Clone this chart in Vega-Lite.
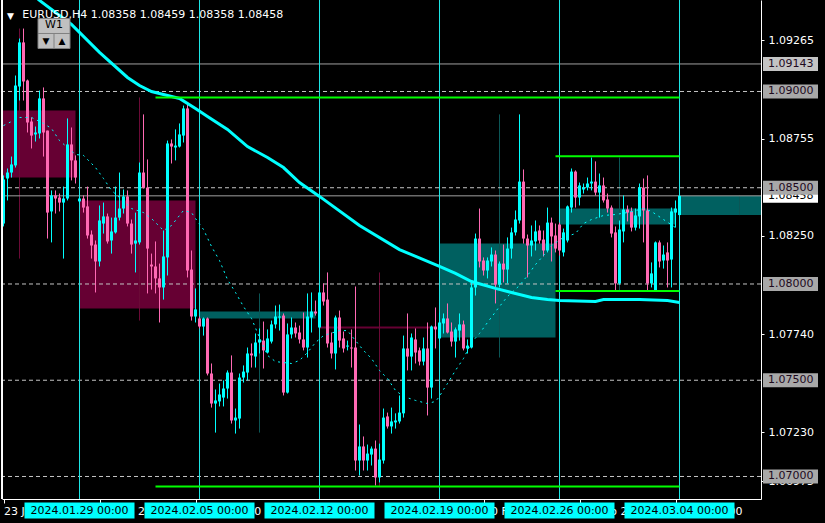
{
  "$schema": "https://vega.github.io/schema/vega-lite/v6.json",
  "width": 759,
  "height": 499,
  "autosize": {"type": "none"},
  "padding": {"left": 2, "top": 0, "right": 64, "bottom": 24},
  "background": "#000000",
  "config": {"view": {"stroke": null}, "font": "DejaVu Sans", "text": {"font": "DejaVu Sans"}},
  "datasets": {
    "candles": [
      {"i":0,"o":1.08314,"h":1.08564,"l":1.08299,"c":1.08543},
      {"i":1,"o":1.08548,"h":1.08600,"l":1.08434,"c":1.08579},
      {"i":2,"o":1.08579,"h":1.08662,"l":1.08553,"c":1.08621},
      {"i":3,"o":1.08616,"h":1.09083,"l":1.08605,"c":1.09031},
      {"i":4,"o":1.09026,"h":1.09275,"l":1.08953,"c":1.09255},
      {"i":5,"o":1.09255,"h":1.09327,"l":1.08953,"c":1.09052},
      {"i":6,"o":1.09057,"h":1.09062,"l":1.08787,"c":1.08839},
      {"i":7,"o":1.08844,"h":1.08865,"l":1.08704,"c":1.08771},
      {"i":8,"o":1.08777,"h":1.08818,"l":1.08740,"c":1.08787},
      {"i":9,"o":1.08782,"h":1.09005,"l":1.08756,"c":1.08964},
      {"i":10,"o":1.08964,"h":1.09021,"l":1.08662,"c":1.08787},
      {"i":11,"o":1.08797,"h":1.08797,"l":1.08236,"c":1.08371},
      {"i":12,"o":1.08377,"h":1.08486,"l":1.08216,"c":1.08460},
      {"i":13,"o":1.08460,"h":1.08486,"l":1.08366,"c":1.08444},
      {"i":14,"o":1.08449,"h":1.08470,"l":1.08377,"c":1.08423},
      {"i":15,"o":1.08423,"h":1.08506,"l":1.08132,"c":1.08444},
      {"i":16,"o":1.08444,"h":1.08860,"l":1.08434,"c":1.08725},
      {"i":17,"o":1.08725,"h":1.08813,"l":1.08538,"c":1.08642},
      {"i":18,"o":1.08642,"h":1.08668,"l":1.08522,"c":1.08553},
      {"i":19,"o":1.08429,"h":1.08455,"l":1.08418,"c":1.08444},
      {"i":20,"o":1.08444,"h":1.08460,"l":1.08371,"c":1.08397},
      {"i":21,"o":1.08403,"h":1.08506,"l":1.08236,"c":1.08252},
      {"i":22,"o":1.08257,"h":1.08278,"l":1.08132,"c":1.08200},
      {"i":23,"o":1.08205,"h":1.08226,"l":1.07956,"c":1.08117},
      {"i":24,"o":1.08117,"h":1.08408,"l":1.08091,"c":1.08330},
      {"i":25,"o":1.08314,"h":1.08423,"l":1.08262,"c":1.08351},
      {"i":26,"o":1.08351,"h":1.08366,"l":1.08210,"c":1.08221},
      {"i":27,"o":1.08226,"h":1.08345,"l":1.08158,"c":1.08273},
      {"i":28,"o":1.08268,"h":1.08506,"l":1.08262,"c":1.08345},
      {"i":29,"o":1.08345,"h":1.08579,"l":1.08330,"c":1.08392},
      {"i":30,"o":1.08392,"h":1.08491,"l":1.08366,"c":1.08455},
      {"i":31,"o":1.08455,"h":1.08486,"l":1.08299,"c":1.08314},
      {"i":32,"o":1.08314,"h":1.08335,"l":1.08158,"c":1.08205},
      {"i":33,"o":1.08210,"h":1.08371,"l":1.08060,"c":1.08226},
      {"i":34,"o":1.08216,"h":1.08631,"l":1.08205,"c":1.08579},
      {"i":35,"o":1.08579,"h":1.08881,"l":1.08496,"c":1.08501},
      {"i":36,"o":1.08501,"h":1.08647,"l":1.07951,"c":1.08184},
      {"i":37,"o":1.08101,"h":1.08158,"l":1.07971,"c":1.08091},
      {"i":38,"o":1.08091,"h":1.08221,"l":1.07951,"c":1.08029},
      {"i":39,"o":1.08029,"h":1.08106,"l":1.07800,"c":1.07982},
      {"i":40,"o":1.07982,"h":1.08278,"l":1.07919,"c":1.08143},
      {"i":41,"o":1.08138,"h":1.08745,"l":1.08044,"c":1.08730},
      {"i":42,"o":1.08730,"h":1.08751,"l":1.08626,"c":1.08714},
      {"i":43,"o":1.08709,"h":1.08803,"l":1.08642,"c":1.08719},
      {"i":44,"o":1.08714,"h":1.08834,"l":1.08709,"c":1.08777},
      {"i":45,"o":1.08771,"h":1.08927,"l":1.08735,"c":1.08912},
      {"i":46,"o":1.08912,"h":1.08938,"l":1.08034,"c":1.08070},
      {"i":47,"o":1.08075,"h":1.08174,"l":1.07810,"c":1.07831},
      {"i":48,"o":1.07831,"h":1.07977,"l":1.07800,"c":1.07868},
      {"i":49,"o":1.07821,"h":1.07831,"l":1.07769,"c":1.07779},
      {"i":50,"o":1.07779,"h":1.07826,"l":1.07732,"c":1.07821},
      {"i":51,"o":1.07821,"h":1.07826,"l":1.07525,"c":1.07535},
      {"i":52,"o":1.07535,"h":1.07587,"l":1.07358,"c":1.07379},
      {"i":53,"o":1.07379,"h":1.07452,"l":1.07228,"c":1.07395},
      {"i":54,"o":1.07390,"h":1.07483,"l":1.07364,"c":1.07426},
      {"i":55,"o":1.07410,"h":1.07499,"l":1.07364,"c":1.07457},
      {"i":56,"o":1.07457,"h":1.07551,"l":1.07405,"c":1.07540},
      {"i":57,"o":1.07540,"h":1.07629,"l":1.07275,"c":1.07291},
      {"i":58,"o":1.07291,"h":1.07353,"l":1.07223,"c":1.07306},
      {"i":59,"o":1.07301,"h":1.07535,"l":1.07249,"c":1.07514},
      {"i":60,"o":1.07514,"h":1.07577,"l":1.07488,"c":1.07545},
      {"i":61,"o":1.07540,"h":1.07670,"l":1.07499,"c":1.07639},
      {"i":62,"o":1.07639,"h":1.07691,"l":1.07566,"c":1.07629},
      {"i":63,"o":1.07623,"h":1.07743,"l":1.07566,"c":1.07696},
      {"i":64,"o":1.07696,"h":1.07769,"l":1.07639,"c":1.07712},
      {"i":65,"o":1.07706,"h":1.07805,"l":1.07561,"c":1.07655},
      {"i":66,"o":1.07644,"h":1.07764,"l":1.07639,"c":1.07717},
      {"i":67,"o":1.07701,"h":1.07810,"l":1.07691,"c":1.07790},
      {"i":68,"o":1.07790,"h":1.07888,"l":1.07769,"c":1.07831},
      {"i":69,"o":1.07826,"h":1.07893,"l":1.07758,"c":1.07831},
      {"i":70,"o":1.07836,"h":1.07847,"l":1.07421,"c":1.07436},
      {"i":71,"o":1.07436,"h":1.07795,"l":1.07431,"c":1.07738},
      {"i":72,"o":1.07738,"h":1.07826,"l":1.07717,"c":1.07774},
      {"i":73,"o":1.07774,"h":1.07800,"l":1.07722,"c":1.07743},
      {"i":74,"o":1.07748,"h":1.07784,"l":1.07691,"c":1.07712},
      {"i":75,"o":1.07712,"h":1.07852,"l":1.07655,"c":1.07670},
      {"i":76,"o":1.07670,"h":1.07951,"l":1.07618,"c":1.07831},
      {"i":77,"o":1.07826,"h":1.07956,"l":1.07748,"c":1.07857},
      {"i":78,"o":1.07857,"h":1.07914,"l":1.07836,"c":1.07847},
      {"i":79,"o":1.07774,"h":1.07992,"l":1.07769,"c":1.07956},
      {"i":80,"o":1.07956,"h":1.08003,"l":1.07888,"c":1.07909},
      {"i":81,"o":1.07919,"h":1.08060,"l":1.07670,"c":1.07691},
      {"i":82,"o":1.07696,"h":1.07748,"l":1.07613,"c":1.07639},
      {"i":83,"o":1.07639,"h":1.07836,"l":1.07556,"c":1.07826},
      {"i":84,"o":1.07826,"h":1.07862,"l":1.07670,"c":1.07706},
      {"i":85,"o":1.07717,"h":1.07753,"l":1.07644,"c":1.07665},
      {"i":86,"o":1.07675,"h":1.07706,"l":1.07655,"c":1.07680},
      {"i":87,"o":1.07670,"h":1.07764,"l":1.07566,"c":1.07665},
      {"i":88,"o":1.07670,"h":1.07987,"l":1.07031,"c":1.07083},
      {"i":89,"o":1.07083,"h":1.07270,"l":1.07005,"c":1.07156},
      {"i":90,"o":1.07156,"h":1.07208,"l":1.07031,"c":1.07083},
      {"i":91,"o":1.07083,"h":1.07166,"l":1.07031,"c":1.07119},
      {"i":92,"o":1.07114,"h":1.07156,"l":1.07057,"c":1.07145},
      {"i":93,"o":1.07145,"h":1.07187,"l":1.06953,"c":1.06995},
      {"i":94,"o":1.06995,"h":1.07171,"l":1.06969,"c":1.07088},
      {"i":95,"o":1.07083,"h":1.07353,"l":1.07067,"c":1.07306},
      {"i":96,"o":1.07312,"h":1.07332,"l":1.07249,"c":1.07260},
      {"i":97,"o":1.07260,"h":1.07358,"l":1.07223,"c":1.07286},
      {"i":98,"o":1.07281,"h":1.07328,"l":1.07249,"c":1.07291},
      {"i":99,"o":1.07286,"h":1.07421,"l":1.07275,"c":1.07332},
      {"i":100,"o":1.07328,"h":1.07732,"l":1.07306,"c":1.07665},
      {"i":101,"o":1.07665,"h":1.07847,"l":1.07551,"c":1.07623},
      {"i":102,"o":1.07623,"h":1.07743,"l":1.07551,"c":1.07722},
      {"i":103,"o":1.07712,"h":1.07769,"l":1.07587,"c":1.07644},
      {"i":104,"o":1.07655,"h":1.07670,"l":1.07577,"c":1.07597},
      {"i":105,"o":1.07597,"h":1.07722,"l":1.07577,"c":1.07665},
      {"i":106,"o":1.07665,"h":1.07800,"l":1.07317,"c":1.07462},
      {"i":107,"o":1.07462,"h":1.07784,"l":1.07405,"c":1.07779},
      {"i":108,"o":1.07779,"h":1.07878,"l":1.07665,"c":1.07764},
      {"i":109,"o":1.07717,"h":1.07852,"l":1.07706,"c":1.07800},
      {"i":110,"o":1.07795,"h":1.07847,"l":1.07743,"c":1.07821},
      {"i":111,"o":1.07821,"h":1.07899,"l":1.07743,"c":1.07748},
      {"i":112,"o":1.07753,"h":1.07800,"l":1.07675,"c":1.07701},
      {"i":113,"o":1.07701,"h":1.07774,"l":1.07618,"c":1.07764},
      {"i":114,"o":1.07758,"h":1.07847,"l":1.07706,"c":1.07790},
      {"i":115,"o":1.07790,"h":1.07810,"l":1.07655,"c":1.07665},
      {"i":116,"o":1.07665,"h":1.07712,"l":1.07639,"c":1.07680},
      {"i":117,"o":1.07670,"h":1.08008,"l":1.07665,"c":1.07982},
      {"i":118,"o":1.07982,"h":1.08262,"l":1.07940,"c":1.08236},
      {"i":119,"o":1.08236,"h":1.08392,"l":1.08086,"c":1.08117},
      {"i":120,"o":1.08122,"h":1.08138,"l":1.08044,"c":1.08070},
      {"i":121,"o":1.08070,"h":1.08138,"l":1.08029,"c":1.08122},
      {"i":122,"o":1.08117,"h":1.08190,"l":1.08091,"c":1.08153},
      {"i":123,"o":1.08153,"h":1.08174,"l":1.07899,"c":1.07997},
      {"i":124,"o":1.07997,"h":1.08117,"l":1.07982,"c":1.08106},
      {"i":125,"o":1.08106,"h":1.08205,"l":1.08008,"c":1.08075},
      {"i":126,"o":1.08075,"h":1.08242,"l":1.08003,"c":1.08184},
      {"i":127,"o":1.08184,"h":1.08293,"l":1.08132,"c":1.08268},
      {"i":128,"o":1.08268,"h":1.08382,"l":1.08252,"c":1.08335},
      {"i":129,"o":1.08330,"h":1.08881,"l":1.08314,"c":1.08532},
      {"i":130,"o":1.08532,"h":1.08595,"l":1.08210,"c":1.08236},
      {"i":131,"o":1.08236,"h":1.08257,"l":1.08034,"c":1.08200},
      {"i":132,"o":1.08200,"h":1.08304,"l":1.08143,"c":1.08226},
      {"i":133,"o":1.08221,"h":1.08330,"l":1.08174,"c":1.08273},
      {"i":134,"o":1.08278,"h":1.08304,"l":1.08210,"c":1.08226},
      {"i":135,"o":1.08231,"h":1.08278,"l":1.08143,"c":1.08174},
      {"i":136,"o":1.08174,"h":1.08397,"l":1.08164,"c":1.08319},
      {"i":137,"o":1.08319,"h":1.08345,"l":1.08117,"c":1.08247},
      {"i":138,"o":1.08252,"h":1.08314,"l":1.08164,"c":1.08184},
      {"i":139,"o":1.08309,"h":1.08319,"l":1.08148,"c":1.08174},
      {"i":140,"o":1.08164,"h":1.08288,"l":1.08143,"c":1.08268},
      {"i":141,"o":1.08226,"h":1.08408,"l":1.08216,"c":1.08403},
      {"i":142,"o":1.08397,"h":1.08600,"l":1.08371,"c":1.08584},
      {"i":143,"o":1.08584,"h":1.08590,"l":1.08397,"c":1.08449},
      {"i":144,"o":1.08449,"h":1.08527,"l":1.08408,"c":1.08512},
      {"i":145,"o":1.08491,"h":1.08522,"l":1.08470,"c":1.08501},
      {"i":146,"o":1.08501,"h":1.08553,"l":1.08486,"c":1.08522},
      {"i":147,"o":1.08522,"h":1.08657,"l":1.08486,"c":1.08532},
      {"i":148,"o":1.08532,"h":1.08637,"l":1.08460,"c":1.08475},
      {"i":149,"o":1.08475,"h":1.08574,"l":1.08345,"c":1.08512},
      {"i":150,"o":1.08512,"h":1.08553,"l":1.08423,"c":1.08434},
      {"i":151,"o":1.08439,"h":1.08470,"l":1.08371,"c":1.08392},
      {"i":152,"o":1.08397,"h":1.08408,"l":1.08242,"c":1.08262},
      {"i":153,"o":1.08268,"h":1.08299,"l":1.07966,"c":1.08003},
      {"i":154,"o":1.08003,"h":1.08330,"l":1.07997,"c":1.08283},
      {"i":155,"o":1.08273,"h":1.08460,"l":1.08216,"c":1.08387},
      {"i":156,"o":1.08387,"h":1.08408,"l":1.08325,"c":1.08371},
      {"i":157,"o":1.08377,"h":1.08397,"l":1.08273,"c":1.08293},
      {"i":158,"o":1.08293,"h":1.08392,"l":1.08278,"c":1.08356},
      {"i":159,"o":1.08351,"h":1.08522,"l":1.08288,"c":1.08501},
      {"i":160,"o":1.08501,"h":1.08548,"l":1.08216,"c":1.08382},
      {"i":161,"o":1.08382,"h":1.08564,"l":1.07966,"c":1.08003},
      {"i":162,"o":1.08003,"h":1.08112,"l":1.07982,"c":1.08055},
      {"i":163,"o":1.07966,"h":1.08221,"l":1.07963,"c":1.08216},
      {"i":164,"o":1.08216,"h":1.08226,"l":1.08086,"c":1.08117},
      {"i":165,"o":1.08122,"h":1.08200,"l":1.08080,"c":1.08153},
      {"i":166,"o":1.08164,"h":1.08216,"l":1.07982,"c":1.08122},
      {"i":167,"o":1.08127,"h":1.08397,"l":1.07982,"c":1.08377},
      {"i":168,"o":1.08371,"h":1.08434,"l":1.08293,"c":1.08392},
      {"i":169,"o":1.08358,"h":1.08459,"l":1.08358,"c":1.08458}
    ],
    "weeks": [
      {"ws":-11,"we":18,"wi":4,"o":1.08901,"h":1.09327,"l":1.08132,"c":1.08553},
      {"ws":19,"we":48,"wi":34,"o":1.08434,"h":1.08969,"l":1.07810,"c":1.07873},
      {"ws":49,"we":78,"wi":64,"o":1.07821,"h":1.07951,"l":1.07228,"c":1.07857},
      {"ws":79,"we":108,"wi":94,"o":1.07779,"h":1.08060,"l":1.06948,"c":1.07769},
      {"ws":109,"we":138,"wi":124,"o":1.07722,"h":1.08881,"l":1.07618,"c":1.08210},
      {"ws":139,"we":168,"wi":154,"o":1.08309,"h":1.08657,"l":1.07966,"c":1.08392},
      {"ws":169,"we":198,"wi":184,"o":1.08358,"h":1.08459,"l":1.08358,"c":1.08458}
    ],
    "ma": [
      {"i":0,"v":1.09644},{"i":9,"v":1.09473},{"i":17,"v":1.09348},{"i":24,"v":1.09203},
      {"i":31,"v":1.09073},{"i":34,"v":1.09031},{"i":37,"v":1.09000},{"i":44,"v":1.08964},
      {"i":48,"v":1.08912},{"i":51,"v":1.08870},{"i":56,"v":1.08803},{"i":61,"v":1.08714},
      {"i":66,"v":1.08657},{"i":70,"v":1.08605},{"i":74,"v":1.08527},{"i":79,"v":1.08455},
      {"i":89,"v":1.08304},{"i":99,"v":1.08179},{"i":109,"v":1.08091},{"i":113,"v":1.08055},
      {"i":117,"v":1.08013},{"i":123,"v":1.07977},{"i":127,"v":1.07956},{"i":132,"v":1.07930},
      {"i":136,"v":1.07919},{"i":139,"v":1.07914},{"i":148,"v":1.07909},{"i":150,"v":1.07919},
      {"i":159,"v":1.07919},{"i":166,"v":1.07914},{"i":169,"v":1.07904}
    ],
    "ma2": [
      {"i":0,"v":1.08823},{"i":4,"v":1.08865},{"i":7,"v":1.08865},{"i":10,"v":1.08834},
      {"i":12,"v":1.08808},{"i":14,"v":1.08745},{"i":18,"v":1.08673},{"i":20,"v":1.08668},
      {"i":23,"v":1.08605},{"i":25,"v":1.08548},{"i":27,"v":1.08486},{"i":29,"v":1.08449},
      {"i":32,"v":1.08392},{"i":35,"v":1.08371},{"i":37,"v":1.08340},{"i":40,"v":1.08278},
      {"i":42,"v":1.08304},{"i":45,"v":1.08382},{"i":47,"v":1.08371},{"i":48,"v":1.08340},
      {"i":50,"v":1.08283},{"i":52,"v":1.08195},{"i":54,"v":1.08122},{"i":56,"v":1.08023},
      {"i":58,"v":1.07956},{"i":60,"v":1.07883},{"i":62,"v":1.07821},{"i":64,"v":1.07722},
      {"i":66,"v":1.07629},{"i":68,"v":1.07597},{"i":70,"v":1.07592},{"i":72,"v":1.07587},
      {"i":74,"v":1.07603},{"i":76,"v":1.07644},{"i":78,"v":1.07696},{"i":80,"v":1.07732},
      {"i":84,"v":1.07758},{"i":86,"v":1.07758},{"i":88,"v":1.07706},{"i":90,"v":1.07655},
      {"i":92,"v":1.07613},{"i":94,"v":1.07551},{"i":96,"v":1.07509},{"i":98,"v":1.07447},
      {"i":100,"v":1.07416},{"i":103,"v":1.07395},{"i":106,"v":1.07379},{"i":108,"v":1.07390},
      {"i":109,"v":1.07416},{"i":110,"v":1.07452},{"i":111,"v":1.07483},{"i":113,"v":1.07551},
      {"i":115,"v":1.07613},{"i":117,"v":1.07696},{"i":119,"v":1.07743},{"i":121,"v":1.07800},
      {"i":124,"v":1.07883},{"i":126,"v":1.07935},{"i":129,"v":1.07992},{"i":131,"v":1.08044},
      {"i":133,"v":1.08101},{"i":135,"v":1.08148},{"i":137,"v":1.08200},{"i":140,"v":1.08242},
      {"i":143,"v":1.08262},{"i":145,"v":1.08314},{"i":147,"v":1.08335},{"i":150,"v":1.08356},
      {"i":153,"v":1.08361},{"i":156,"v":1.08371},{"i":160,"v":1.08392},{"i":162,"v":1.08377},
      {"i":165,"v":1.08335},{"i":168,"v":1.08293}
    ],
    "dashedLevels": [{"p":1.09},{"p":1.085},{"p":1.08},{"p":1.075},{"p":1.07}],
    "solidLevels": [{"p":1.09143},{"p":1.08458}],
    "separators": [{"i":19},{"i":49},{"i":79},{"i":109},{"i":139},{"i":169}],
    "greenLines": [
      {"from":38,"to":169,"p":1.08969},
      {"from":38,"to":169,"p":1.06948},
      {"from":138,"to":169,"p":1.08663},
      {"from":138,"to":169,"p":1.07963}
    ],
    "bidBox": [{"p":1.08458,"label":"1.08458"}],
    "levelBoxes": [
      {"p":1.09143,"label":"1.09143","kind":"line"},
      {"p":1.09000,"label":"1.09000","kind":"level"},
      {"p":1.08500,"label":"1.08500","kind":"level"},
      {"p":1.08000,"label":"1.08000","kind":"level"},
      {"p":1.07500,"label":"1.07500","kind":"level"},
      {"p":1.07000,"label":"1.07000","kind":"level"}
    ],
    "dateBoxes": [
      {"i":19,"label":"2024.01.29 00:00"},
      {"i":49,"label":"2024.02.05 00:00"},
      {"i":79,"label":"2024.02.12 00:00"},
      {"i":109,"label":"2024.02.19 00:00"},
      {"i":139,"label":"2024.02.26 00:00"},
      {"i":169,"label":"2024.03.04 00:00"}
    ],
    "header": [{"symbol":"EURUSD,H4  1.08358 1.08459 1.08358 1.08458","button":"W1"}]
  },
  "layer": [
    {
      "data": {"name": "weeks"},
      "mark": {"type": "rect", "clip": true},
      "encoding": {
        "x": {"field": "ws", "type": "quantitative",
          "scale": {"domain": [-0.375, 189.375], "nice": false, "zero": false, "padding": 0},
          "axis": {"orient": "bottom", "values": [0, 24, 48, 120, 144, 168],
            "labelExpr": "['23 Jan 2024','29 Jan 20:00','2 Feb 20:00','8 Feb 20:00','14 Feb 20:00','20 Feb 20:00','26 Feb 20:00','1 Mar 20:00'][round(datum.value/24)]",
            "title": null, "grid": false, "domainColor": "#ffffff", "tickColor": "#ffffff", "tickSize": 4,
            "labelColor": "#ffffff", "labelFont": "DejaVu Sans", "labelFontSize": 11, "labelAlign": "left",
            "labelBaseline": "top", "labelPadding": 2, "labelDx": 1, "labelOverlap": false, "labelBound": false, "labelFlush": false}},
        "x2": {"field": "we"},
        "y": {"field": "o", "type": "quantitative",
          "scale": {"domain": [1.068831, 1.094753], "nice": false, "zero": false, "padding": 0},
          "axis": {"orient": "right", "values": [1.09265, 1.08755, 1.0825, 1.0774, 1.0723, 1.06975],
            "format": ".5f", "title": null, "grid": false, "domainColor": "#ffffff", "tickColor": "#ffffff", "tickSize": 3,
            "labelColor": "#ffffff", "labelFont": "DejaVu Sans", "labelFontSize": 11, "labelPadding": 4, "labelOverlap": false, "labelBound": false, "labelFlush": false}},
        "y2": {"field": "c"},
        "color": {"condition": {"test": "datum.c < datum.o", "value": "#660033"}, "value": "#006060"}
      }
    },
    {
      "data": {"name": "weeks"},
      "mark": {"type": "rule", "clip": true, "strokeWidth": 1},
      "encoding": {
        "x": {"field": "wi", "type": "quantitative"},
        "y": {"field": "l", "type": "quantitative"},
        "y2": {"field": "h"},
        "color": {"condition": {"test": "datum.c < datum.o", "value": "#6a0a36"}, "value": "#0b5656"}
      }
    },
    {
      "data": {"name": "dashedLevels"},
      "mark": {"type": "rule", "color": "#c4c4c4", "strokeWidth": 1, "strokeDash": [4, 3]},
      "encoding": {"y": {"field": "p", "type": "quantitative"}}
    },
    {
      "data": {"name": "solidLevels"},
      "mark": {"type": "rule", "color": "#a0a0a0", "strokeWidth": 1},
      "encoding": {"y": {"field": "p", "type": "quantitative"}}
    },
    {
      "data": {"name": "separators"},
      "mark": {"type": "rule", "color": "#1ee5e5", "strokeWidth": 1},
      "encoding": {"x": {"field": "i", "type": "quantitative"}}
    },
    {
      "data": {"name": "candles"},
      "mark": {"type": "rule", "strokeWidth": 1, "clip": true},
      "encoding": {
        "x": {"field": "i", "type": "quantitative"},
        "y": {"field": "l", "type": "quantitative"},
        "y2": {"field": "h"},
        "color": {"condition": {"test": "datum.c < datum.o", "value": "#ff69b4"}, "value": "#00ffff"}
      }
    },
    {
      "data": {"name": "candles"},
      "mark": {"type": "bar", "size": 3, "orient": "vertical", "clip": true},
      "encoding": {
        "x": {"field": "i", "type": "quantitative"},
        "y": {"field": "o", "type": "quantitative"},
        "y2": {"field": "c"},
        "color": {"condition": {"test": "datum.c < datum.o", "value": "#ff69b4"}, "value": "#00ffff"}
      }
    },
    {
      "data": {"name": "ma2"},
      "mark": {"type": "line", "color": "#00ffff", "strokeWidth": 1, "strokeDash": [2, 4], "clip": true},
      "encoding": {
        "x": {"field": "i", "type": "quantitative"},
        "y": {"field": "v", "type": "quantitative"}
      }
    },
    {
      "data": {"name": "ma"},
      "mark": {"type": "line", "color": "#00ffff", "strokeWidth": 3, "clip": true},
      "encoding": {
        "x": {"field": "i", "type": "quantitative"},
        "y": {"field": "v", "type": "quantitative"}
      }
    },
    {
      "data": {"name": "greenLines"},
      "mark": {"type": "rule", "color": "#00ff00", "strokeWidth": 2},
      "encoding": {
        "x": {"field": "from", "type": "quantitative"},
        "x2": {"field": "to"},
        "y": {"field": "p", "type": "quantitative"}
      }
    },
    {
      "data": {"name": "separators"},
      "mark": {"type": "rule", "color": "#ffffff", "strokeWidth": 1},
      "encoding": {"x": {"datum": -0.375, "type": "quantitative"}}
    },
    {
      "data": {"name": "header"},
      "mark": {"type": "text", "text": "▼", "align": "left", "baseline": "alphabetic", "fontSize": 9, "color": "#ffffff"},
      "encoding": {
        "x": {"datum": 0.9, "type": "quantitative"},
        "y": {"datum": 1.09378, "type": "quantitative"}
      }
    },
    {
      "data": {"name": "header"},
      "mark": {"type": "text", "align": "left", "baseline": "alphabetic", "fontSize": 11, "color": "#ffffff"},
      "encoding": {
        "x": {"datum": 4.7, "type": "quantitative"},
        "y": {"datum": 1.09384, "type": "quantitative"},
        "text": {"field": "symbol"}
      }
    },
    {
      "data": {"name": "header"},
      "mark": {"type": "rect", "color": "#c0c0c0", "stroke": "#808080", "strokeWidth": 1},
      "encoding": {
        "x": {"datum": 8.625, "type": "quantitative"},
        "x2": {"datum": 16.625},
        "y": {"datum": 1.093792, "type": "quantitative"},
        "y2": {"datum": 1.092234}
      }
    },
    {
      "data": {"name": "header"},
      "mark": {"type": "rule", "color": "#808080", "strokeWidth": 1},
      "encoding": {
        "x": {"datum": 8.625, "type": "quantitative"},
        "x2": {"datum": 16.625},
        "y": {"datum": 1.093013, "type": "quantitative"}
      }
    },
    {
      "data": {"name": "header"},
      "mark": {"type": "rule", "color": "#808080", "strokeWidth": 1},
      "encoding": {
        "x": {"datum": 12.625, "type": "quantitative"},
        "y": {"datum": 1.093013, "type": "quantitative"},
        "y2": {"datum": 1.092234}
      }
    },
    {
      "data": {"name": "header"},
      "mark": {"type": "text", "align": "center", "baseline": "middle", "fontSize": 11, "color": "#000000"},
      "encoding": {
        "x": {"datum": 12.625, "type": "quantitative"},
        "y": {"datum": 1.09344, "type": "quantitative"},
        "text": {"field": "button"}
      }
    },
    {
      "data": {"name": "header"},
      "mark": {"type": "text", "text": "▼", "align": "center", "baseline": "middle", "fontSize": 9, "color": "#000000"},
      "encoding": {
        "x": {"datum": 10.625, "type": "quantitative"},
        "y": {"datum": 1.09261, "type": "quantitative"}
      }
    },
    {
      "data": {"name": "header"},
      "mark": {"type": "text", "text": "▲", "align": "center", "baseline": "middle", "fontSize": 9, "color": "#000000"},
      "encoding": {
        "x": {"datum": 14.625, "type": "quantitative"},
        "y": {"datum": 1.09261, "type": "quantitative"}
      }
    },
    {
      "data": {"name": "bidBox"},
      "mark": {"type": "bar", "orient": "horizontal", "size": 14, "color": "#ffffff"},
      "encoding": {
        "x": {"datum": 189.875, "type": "quantitative"},
        "x2": {"datum": 203.625},
        "y": {"field": "p", "type": "quantitative"}
      }
    },
    {
      "data": {"name": "bidBox"},
      "mark": {"type": "text", "align": "left", "baseline": "middle", "fontSize": 11, "color": "#000000"},
      "encoding": {
        "x": {"datum": 191.125, "type": "quantitative"},
        "y": {"field": "p", "type": "quantitative"},
        "text": {"field": "label"}
      }
    },
    {
      "data": {"name": "levelBoxes"},
      "mark": {"type": "bar", "orient": "horizontal", "size": 14},
      "encoding": {
        "x": {"datum": 189.875, "type": "quantitative"},
        "x2": {"datum": 203.625},
        "y": {"field": "p", "type": "quantitative"},
        "color": {"condition": {"test": "datum.kind == 'line'", "value": "#c4c4c4"}, "value": "#a8a8a8"}
      }
    },
    {
      "data": {"name": "levelBoxes"},
      "mark": {"type": "text", "align": "left", "baseline": "middle", "fontSize": 11, "color": "#1e0a1e"},
      "encoding": {
        "x": {"datum": 191.125, "type": "quantitative"},
        "y": {"field": "p", "type": "quantitative"},
        "text": {"field": "label"}
      }
    },
    {
      "data": {"name": "dateBoxes"},
      "mark": {"type": "bar", "orient": "vertical", "size": 110, "color": "#00ffff"},
      "encoding": {
        "x": {"field": "i", "type": "quantitative"},
        "y": {"datum": 1.068649, "type": "quantitative"},
        "y2": {"datum": 1.067817}
      }
    },
    {
      "data": {"name": "dateBoxes"},
      "mark": {"type": "text", "align": "center", "baseline": "middle", "fontSize": 11, "color": "#000000"},
      "encoding": {
        "x": {"field": "i", "type": "quantitative"},
        "y": {"datum": 1.068233, "type": "quantitative"},
        "text": {"field": "label"}
      }
    }
  ]
}
